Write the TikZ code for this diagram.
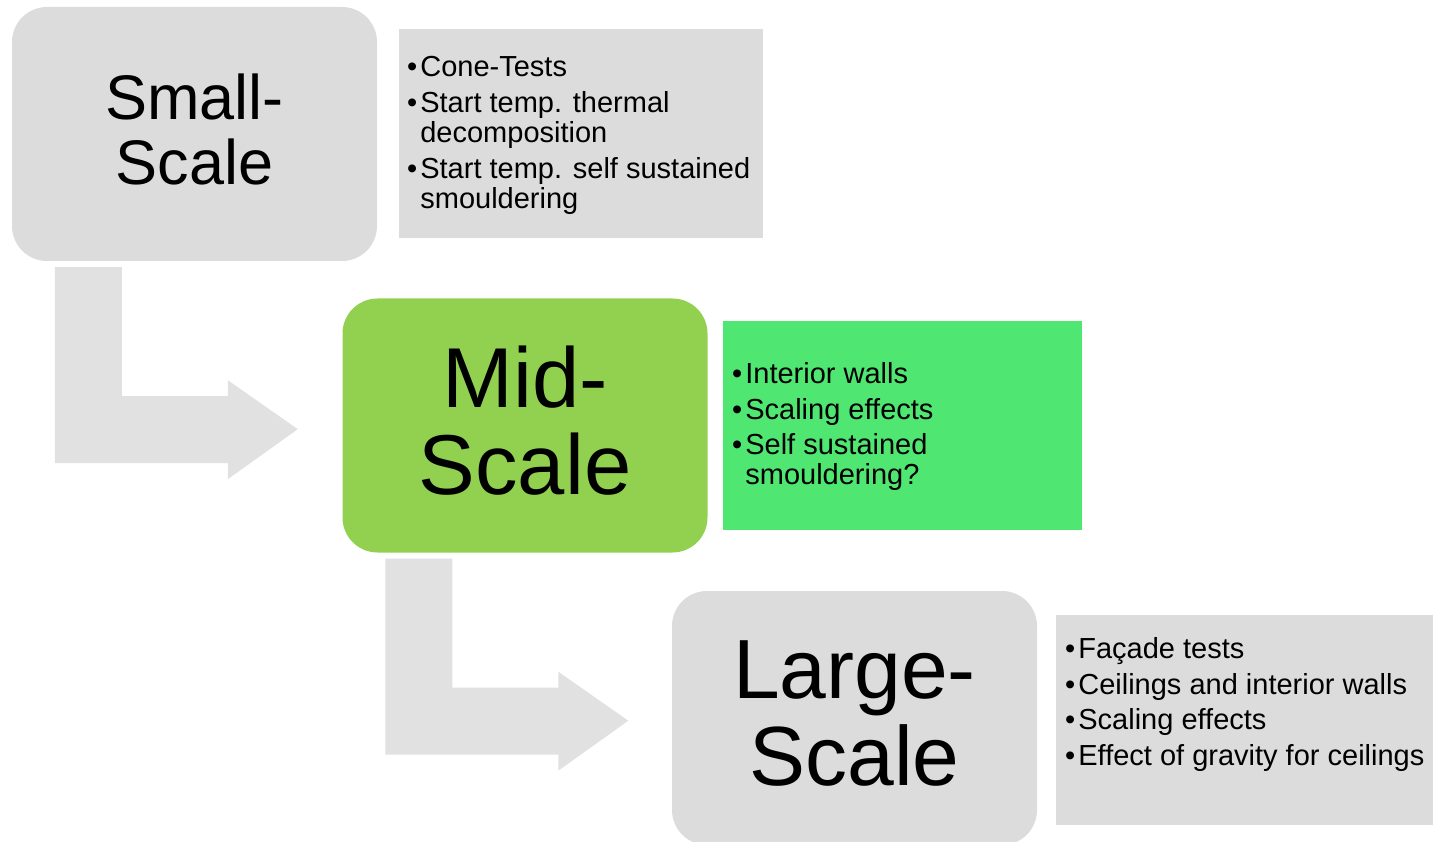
\documentclass[tikz,border=0pt]{standalone}
\usepackage{fontspec}
\setmainfont{Liberation Sans}

\definecolor{boxgray}{HTML}{DCDCDC}
\definecolor{arrowgray}{HTML}{E1E1E1}
\definecolor{midgreen}{HTML}{92D050}
\definecolor{listgreen}{HTML}{4FE672}
\newcommand{\bul}{•\kern3pt}
\newcommand{\hng}{\hphantom{•}\kern3pt}
\newcommand{\lowdp}{\rule[-10pt]{0pt}{10pt}}

\begin{document}
\begin{tikzpicture}[x=1pt, y=-1pt,
every node/.style={inner sep=0pt},
scalebox/.style={rounded corners=35pt, minimum width=365pt, minimum height=254pt,
    align=center},
listbox/.style={minimum width=364pt, minimum height=209pt},
listtext/.style={anchor=north west, align=left, font=\fontsize{29}{30}\selectfont}
]
\useasboundingbox (0,0) rectangle (1433,842);

\node[scalebox, fill=boxgray, font=\fontsize{63}{65}\selectfont] (small) at (194.5,134) {Small-\\Scale\lowdp};
\node[scalebox, fill=midgreen, font=\fontsize{85}{87}\selectfont] (mid) at (525,425.5) {Mid-\\Scale\lowdp};
\node[scalebox, fill=boxgray, font=\fontsize{84}{87}\selectfont] (large) at (854.5,718) {Large-\\Scale\lowdp};

\node[listbox, fill=boxgray] (smallinfo) at (581,133.5) {};
\node[listbox, fill=listgreen, minimum width=359pt] (midinfo) at (902.5,425.5) {};
\node[listbox, fill=boxgray, minimum width=377pt, minimum height=210pt] (largeinfo) at (1244.5,720) {};

\node[listtext] (smalltext) at (407,56) {%
\bul Cone-Tests\\[6pt]
\bul Start temp. thermal\\
\hng decomposition\\[6pt]
\bul Start temp. self sustained\\
\hng smouldering};
\node[listtext] (midtext) at (732,362) {%
\bul Interior walls\\[6pt]
\bul Scaling effects\\[5pt]
\bul Self sustained\\
\hng smouldering?};
\node[listtext] (largetext) at (1065,637) {%
\bul Façade tests\\[6pt]
\bul Ceilings and interior walls\\[5pt]
\bul Scaling effects\\[6pt]
\bul Effect of gravity for ceilings};

% bent arrows below the scale boxes
\foreach \from in {small, mid}
    \fill[arrowgray, shift={(\from.south west)}] (43,6) -- (110,6) -- (110,135) -- (216,135)
        -- (216,119) -- (286,168) -- (216,218) -- (216,202) -- (43,202) -- cycle;
\end{tikzpicture}
\end{document}
